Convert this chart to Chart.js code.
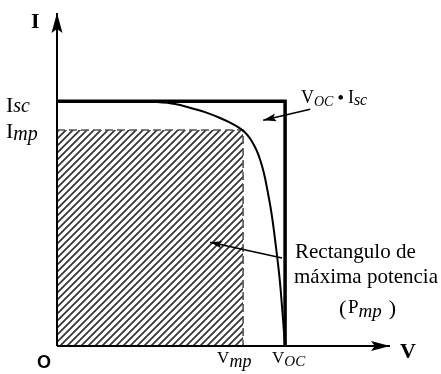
<!DOCTYPE html>
<html><head><meta charset="utf-8">
<script src="https://cdn.jsdelivr.net/npm/chart.js@4"></script>
<style>html,body{margin:0;padding:0;background:#fff}canvas{display:block}</style>
</head><body>
<canvas id="c" width="441" height="374"></canvas>
<script>
// ---- data (normalised: Voc = 1, Isc = 1) ----
const curveV = [0, 0.276, 0.439, 0.518, 0.583, 0.649, 0.715, 0.759, 0.794, 0.820, 0.842, 0.864, 0.882, 0.899, 0.912, 0.925, 0.939, 0.952, 0.965, 0.978, 1.0];
const curveI = [1.0, 1.0, 0.996, 0.988, 0.973, 0.955, 0.931, 0.912, 0.894, 0.876, 0.853, 0.820, 0.784, 0.735, 0.686, 0.624, 0.551, 0.465, 0.367, 0.257, 0];
const Isc = 1.0, Voc = 1.0, Imp = 0.882, Vmp = 0.816;
const axisMaxV = 1.46, axisMaxI = 1.36;
const arrowPowerV = [1.110, 0.904], arrowPowerI = [0.967, 0.922];
const arrowRectV = [0.987, 0.671], arrowRectI = [0.359, 0.424];
const axisLabels = ['I', 'V', 'O'];
const tickMain = ['I', 'I', 'V', 'V'];
const tickSub = ['sc', 'mp', 'mp', 'OC'];
const powerLabel = ['V', 'OC', ' \u2022 ', 'I', 'sc'];
const rectLabel = ['Rectangulo de', 'm\u00e1xima potencia', '(', 'P', 'mp', ')'];

const pts = (xs, ys) => xs.map((x, i) => ({x, y: ys[i]}));

function hatchPattern() {
  const s = 7, c = document.createElement('canvas');
  c.width = s; c.height = s;
  const g = c.getContext('2d');
  g.strokeStyle = '#333'; g.lineWidth = 1.7;
  g.beginPath();
  g.moveTo(-1, s + 1); g.lineTo(s + 1, -1);
  g.moveTo(-2, 2); g.lineTo(2, -2);
  g.moveTo(s - 2, s + 2); g.lineTo(s + 2, s - 2);
  g.stroke();
  return g.createPattern(c, 'repeat');
}

function drawArrowHead(ctx, x1, y1, x2, y2, len, half) {
  const a = Math.atan2(y2 - y1, x2 - x1), c = Math.cos(a), s = Math.sin(a);
  const bx = x2 - len * c, by = y2 - len * s;
  ctx.beginPath();
  ctx.moveTo(x2, y2);
  ctx.lineTo(bx - half * s, by + half * c);
  ctx.lineTo(x2 - len * 0.8 * c, y2 - len * 0.8 * s);
  ctx.lineTo(bx + half * s, by - half * c);
  ctx.closePath();
  ctx.fill();
}

const base = {showLine: true, pointRadius: 0, fill: false, clip: false, tension: 0};

const ctx = document.getElementById('c').getContext('2d');

const arrowPlugin = {
  id: 'arrows',
  afterDatasetsDraw(chart) {
    const c = chart.ctx;
    c.save();
    c.fillStyle = '#000';
    chart.data.datasets.forEach((ds, i) => {
      if (!ds.arrow) return;
      const d = chart.getDatasetMeta(i).data;
      const p1 = d[d.length - 2], p2 = d[d.length - 1];
      drawArrowHead(c, p1.x, p1.y, p2.x, p2.y, ds.arrow[0], ds.arrow[1]);
    });
    c.restore();
  }
};

const labelPlugin = {
  id: 'labels',
  afterDraw(chart) {
    const c = chart.ctx, xs = chart.scales.x, ys = chart.scales.y;
    const X = v => xs.getPixelForValue(v), Y = v => ys.getPixelForValue(v);
    c.save();
    c.fillStyle = '#000';
    c.textBaseline = 'alphabetic';
    c.textAlign = 'left';
    const sub = (x, y, main, mf, s, sf, dy) => {
      c.font = mf; c.fillText(main, x, y);
      const w = c.measureText(main).width;
      c.font = sf; c.fillText(s, x + w, y + dy);
      return x + w + c.measureText(s).width;
    };
    const serif = '"Liberation Serif", "Times New Roman", serif';
    // axis labels
    c.font = 'bold 22px ' + serif;
    c.fillText(axisLabels[0], 31, 28);
    c.fillText(axisLabels[1], 400, 358);
    c.font = 'bold 18px "Liberation Sans", Arial, sans-serif';
    c.fillText(axisLabels[2], 37, 368);
    // tick-like labels
    sub(6, Y(Isc) + 11, tickMain[0], '22px ' + serif, tickSub[0], 'italic 20px ' + serif, 0);
    sub(6, Y(Imp) + 8, tickMain[1], '22px ' + serif, tickSub[1], 'italic 20px ' + serif, 2);
    sub(X(Vmp) - 26, 363, tickMain[2], '17px ' + serif, tickSub[2], 'italic 18px ' + serif, 4);
    sub(X(Voc) - 13, 363, tickMain[3], '17px ' + serif, tickSub[3], 'italic 15px ' + serif, 3);
    // power label
    let x = sub(301, 103, powerLabel[0], '18px ' + serif, powerLabel[1], 'italic 14px ' + serif, 3);
    c.font = 'bold 17px ' + serif; c.fillText(powerLabel[2], x, 103);
    x += c.measureText(powerLabel[2]).width;
    sub(x, 103, powerLabel[3], '18px ' + serif, powerLabel[4], 'italic 16px ' + serif, 2);
    // rectangle label
    c.font = '21px ' + serif;
    c.fillText(rectLabel[0], 295, 258);
    c.fillText(rectLabel[1], 294, 283);
    c.font = '22px ' + serif;
    c.fillText(rectLabel[2], 339, 315);
    x = sub(348, 313, rectLabel[3], '19px ' + serif, rectLabel[4], 'italic 19px ' + serif, 4);
    c.font = '22px ' + serif;
    c.fillText(rectLabel[5], x + 7, 315);
    c.restore();
  }
};

new Chart(ctx, {
  type: 'scatter',
  data: {
    datasets: [
      Object.assign({}, base, {label: 'Pmp', data: pts([0, Vmp, Vmp], [Imp, Imp, 0]),
        borderColor: '#555', borderWidth: 1.6, borderDash: [8, 4],
        fill: 'origin', backgroundColor: hatchPattern(), order: 9}),
      Object.assign({}, base, {label: 'IV', data: pts(curveV, curveI),
        borderColor: '#000', borderWidth: 2, cubicInterpolationMode: 'monotone', order: 5}),
      Object.assign({}, base, {label: 'VocIsc', data: pts([0, Voc, Voc], [Isc, Isc, 0]),
        borderColor: '#000', borderWidth: 3.5, order: 4, borderJoinStyle: 'miter'}),
      Object.assign({}, base, {label: 'xaxis', data: pts([0, axisMaxV], [0, 0]),
        borderColor: '#000', borderWidth: 2, order: 3, arrow: [19, 5]}),
      Object.assign({}, base, {label: 'yaxis', data: pts([0, 0], [0, axisMaxI]),
        borderColor: '#000', borderWidth: 2, order: 3, arrow: [20, 5.5]}),
      Object.assign({}, base, {label: 'a1', data: pts(arrowPowerV, arrowPowerI),
        borderColor: '#000', borderWidth: 1.7, order: 2, arrow: [13, 4]}),
      Object.assign({}, base, {label: 'a2', data: pts(arrowRectV, arrowRectI),
        borderColor: '#000', borderWidth: 1.5, order: 2, arrow: [12, 3.5]})
    ]
  },
  options: {
    responsive: false, animation: false, devicePixelRatio: 1,
    layout: {padding: {left: 57, right: 51, top: 13, bottom: 28}},
    scales: {
      x: {type: 'linear', min: 0, max: axisMaxV, display: false},
      y: {type: 'linear', min: 0, max: axisMaxI, display: false}
    },
    plugins: {legend: {display: false}, tooltip: {enabled: false}}
  },
  plugins: [arrowPlugin, labelPlugin]
});
</script>
</body></html>
